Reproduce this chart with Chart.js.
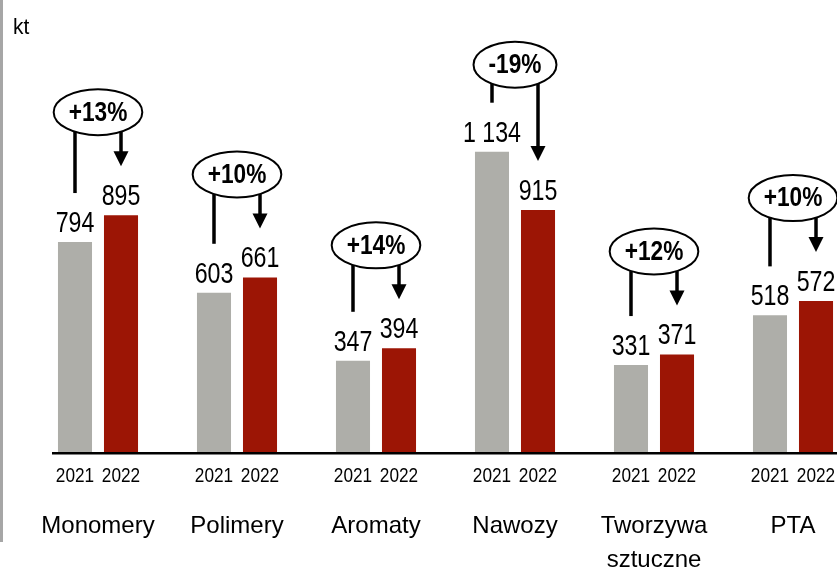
<!DOCTYPE html>
<html>
<head>
<meta charset="utf-8">
<script src="https://cdn.jsdelivr.net/npm/chart.js@4.4.1/dist/chart.umd.min.js"></script>
<style>
  html, body { margin: 0; padding: 0; background: #fff; overflow: hidden; width: 837px; height: 571px; }
  #wrap { position: relative; width: 880px; height: 571px; }
</style>
</head>
<body>
<div id="wrap"><canvas id="chart" width="880" height="571"></canvas></div>
<script>
// dane (kt)
const categories = ['Monomery', 'Polimery', 'Aromaty', 'Nawozy', ['Tworzywa', 'sztuczne'], 'PTA'];
const years = ['2021', '2022'];
const values2021 = [794, 603, 347, 1134, 331, 518];
const values2022 = [895, 661, 394, 915, 371, 572];
const changes = ['+13%', '+10%', '+14%', '-19%', '+12%', '+10%'];
const unitLabel = 'kt';

const GRAY = '#aeaea9';
const RED = '#9c1505';

function fmt(v) {
    return String(v).replace(/\B(?=(\d{3})+(?!\d))/g, ' ');
}

// tekst zwężony (jak Arial Narrow)
function narrowText(ctx, text, x, y, sx) {
    ctx.save();
    ctx.translate(x, y);
    ctx.scale(sx, 1);
    ctx.fillText(text, 0, 0);
    ctx.restore();
}

const overlay = {
    id: 'overlay',
    afterDatasetsDraw(chart) {
        const ctx = chart.ctx;
        const base = chart.scales.y.getPixelForValue(0);

        ctx.save();
        // szara linia po lewej
        ctx.fillStyle = '#a6a6a6';
        ctx.fillRect(0, 0, 3, 542);
        // oś
        ctx.fillStyle = '#000';
        ctx.fillRect(52, base - 1, 840, 2.5);

        ctx.fillStyle = '#000';
        ctx.textAlign = 'left';
        ctx.textBaseline = 'alphabetic';
        ctx.font = '22px "Liberation Sans", Arial, sans-serif';
        narrowText(ctx, unitLabel, 13, 34, 0.95);

        const m0 = chart.getDatasetMeta(0).data;
        const m1 = chart.getDatasetMeta(1).data;

        for (let i = 0; i < categories.length; i++) {
            const g = m0[i], r = m1[i];
            ctx.fillStyle = '#000';
            ctx.textAlign = 'center';

            // wartości
            ctx.font = '29px "Liberation Sans", Arial, sans-serif';
            narrowText(ctx, fmt(values2021[i]), g.x, g.y - 10, 0.8);
            narrowText(ctx, fmt(values2022[i]), r.x, r.y - 10, 0.8);

            // lata
            ctx.font = '21px "Liberation Sans", Arial, sans-serif';
            narrowText(ctx, years[0], g.x, 482, 0.82);
            narrowText(ctx, years[1], r.x, 482, 0.82);

            // elipsa ze zmianą
            const up = values2022[i] >= values2021[i];
            const top = Math.min(g.y, r.y);
            const cy = top - (up ? 103 : 87);
            const cx = (g.x + r.x) / 2;
            ctx.font = 'bold 27px "Liberation Sans", Arial, sans-serif';
            const tw = ctx.measureText(changes[i]).width * 0.84;
            const rx = tw / 2 + 15;
            const ry = 23;

            ctx.beginPath();
            ctx.ellipse(cx, cy, rx, ry, 0, 0, Math.PI * 2);
            ctx.fillStyle = '#fff';
            ctx.fill();
            ctx.lineWidth = 2;
            ctx.strokeStyle = '#000';
            ctx.stroke();

            ctx.fillStyle = '#000';
            ctx.textBaseline = 'middle';
            narrowText(ctx, changes[i], cx, cy + 1, 0.84);
            ctx.textBaseline = 'alphabetic';

            const edge = x => cy + ry * Math.sqrt(Math.max(0, 1 - Math.pow((x - cx) / rx, 2)));

            // linia do 2021
            ctx.lineWidth = 3.5;
            ctx.beginPath();
            ctx.moveTo(g.x, edge(g.x));
            ctx.lineTo(g.x, g.y - 49);
            ctx.stroke();

            // strzałka do 2022
            const tip = r.y - 49;
            ctx.beginPath();
            ctx.moveTo(r.x, edge(r.x));
            ctx.lineTo(r.x, tip - 12);
            ctx.stroke();
            ctx.beginPath();
            ctx.moveTo(r.x - 7.5, tip - 15);
            ctx.lineTo(r.x + 7.5, tip - 15);
            ctx.lineTo(r.x, tip);
            ctx.closePath();
            ctx.fill();
        }
        ctx.restore();
    }
};

new Chart(document.getElementById('chart').getContext('2d'), {
    type: 'bar',
    data: {
        labels: categories,
        datasets: [
            { label: years[0], data: values2021, backgroundColor: GRAY, categoryPercentage: 0.662, barPercentage: 0.74 },
            { label: years[1], data: values2022, backgroundColor: RED, categoryPercentage: 0.662, barPercentage: 0.74 }
        ]
    },
    options: {
        responsive: false,
        animation: false,
        layout: { padding: { left: 28.5, right: 17.5, top: 0, bottom: 0 } },
        plugins: { legend: { display: false }, tooltip: { enabled: false } },
        scales: {
            x: {
                grid: { display: false },
                border: { display: false },
                ticks: {
                    color: '#000',
                    padding: 49,
                    maxRotation: 0,
                    autoSkip: false,
                    font: { family: '"Liberation Sans", Arial, sans-serif', size: 24, lineHeight: 1.4 }
                },
                afterFit(scale) {
                    scale.height = 118;
                    scale.paddingLeft = 0;
                    scale.paddingRight = 0;
                }
            },
            y: {
                display: false,
                min: 0,
                max: 1705
            }
        }
    },
    plugins: [overlay]
});
</script>
</body>
</html>
